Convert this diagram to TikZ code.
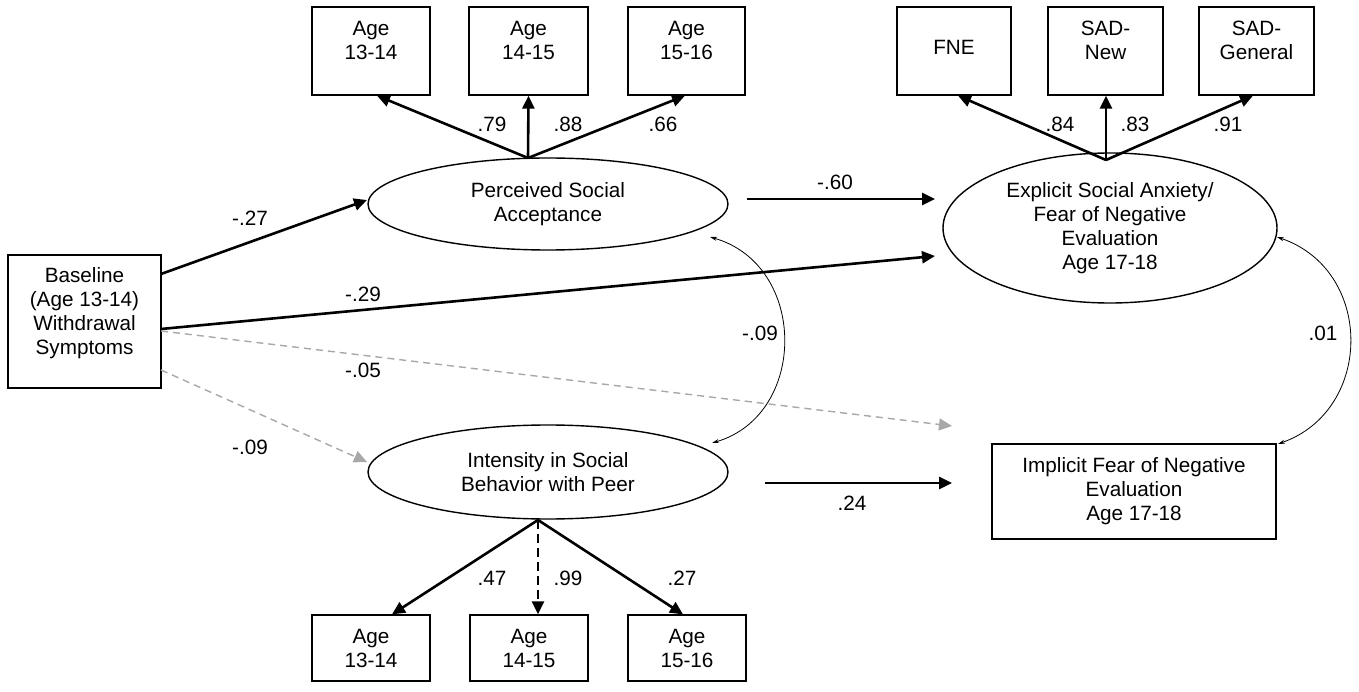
\documentclass[tikz,border=0pt]{standalone}
\usepackage{fontspec}
\setmainfont{Liberation Sans}
\usetikzlibrary{arrows.meta,shapes.geometric,calc}
\definecolor{lgray}{gray}{0.66}
\begin{document}
\begin{tikzpicture}[x=1pt,y=-1pt,
  every node/.style={font=\fontsize{20.7}{24}\selectfont, inner sep=0pt, align=center},
  box/.style={draw, line width=1.3pt, rectangle},
  ell/.style={draw, line width=1.4pt, ellipse},
  pth/.style={line width=2.6pt, -{Triangle[length=13pt,width=12pt]}},
  dpth/.style={line width=2.6pt, dash pattern=on 9pt off 5pt, -{Triangle[length=13pt,width=12pt]}},
  gpth/.style={line width=1.4pt, draw=lgray, dash pattern=on 7pt off 5pt, -{Triangle[length=13pt,width=12pt,fill=lgray]}},
  corr/.style={line width=0.8pt, {Stealth[length=7pt,width=4pt]}-{Stealth[length=7pt,width=4pt]}}
]
\fill[white] (0,0) rectangle (1359,692);
\useasboundingbox (0,0) rectangle (1359,692);

% top-left indicator boxes
\node[box, minimum width=118pt, minimum height=88pt] (pa1) at (371,51) {};
\node (pa1t) at (371,40) {Age\\13-14};
\node[box, minimum width=119pt, minimum height=88pt] (pa2) at (528.5,51) {};
\node (pa2t) at (528.5,40) {Age\\14-15};
\node[box, minimum width=117pt, minimum height=88pt] (pa3) at (686.5,51) {};
\node (pa3t) at (686.5,40) {Age\\15-16};

% top-right indicator boxes
\node[box, minimum width=114pt, minimum height=88pt] (f1) at (954,51) {};
\node (f1t) at (954,47) {FNE};
\node[box, minimum width=115pt, minimum height=88pt] (f2) at (1105.5,51) {};
\node (f2t) at (1105.5,40) {SAD-\\New};
\node[box, minimum width=115pt, minimum height=88pt] (f3) at (1256.5,51) {};
\node (f3t) at (1256.5,40) {SAD-\\General};

% latent variables
\node[ell, minimum width=360pt, minimum height=92pt] (psa) at (548,204) {Perceived Social\\Acceptance};
\node[ell, minimum width=334pt, minimum height=150pt] (exp) at (1110,228) {Explicit Social Anxiety/\\Fear of Negative\\Evaluation\\Age 17-18};
\node[ell, minimum width=360pt, minimum height=94pt] (isb) at (548,472) {Intensity in Social\\Behavior with Peer};

% baseline
\node[box, minimum width=153pt, minimum height=133pt] (base) at (84.5,321.5) {};
\node (baset) at (84.5,313) {Baseline\\(Age 13-14)\\Withdrawal\\Symptoms};

% implicit
\node[box, minimum width=284pt, minimum height=95pt] (imp) at (1134,491.5) {Implicit Fear of Negative\\Evaluation\\Age 17-18};

% bottom indicator boxes
\node[box, minimum width=118pt, minimum height=66pt] (ia1) at (371,648) {};
\node (ia1t) at (371,648) {Age\\13-14};
\node[box, minimum width=118pt, minimum height=66pt] (ia2) at (529,648) {};
\node (ia2t) at (529,648) {Age\\14-15};
\node[box, minimum width=118pt, minimum height=66pt] (ia3) at (687,648) {};
\node (ia3t) at (687,648) {Age\\15-16};

% connector end points
\coordinate (psaT) at (528,158);
\coordinate (expT) at (1106,160);
\coordinate (isbB) at (538,520);
\coordinate (bA) at (161,274);
\coordinate (bB) at (161,329);
\coordinate (bC) at (161,331);
\coordinate (bD) at (161,370);
\coordinate (psaIn) at (367,200);
\coordinate (expIn1) at (935,199);
\coordinate (expIn2) at (935,256);
\coordinate (impIn1) at (952,426);
\coordinate (impIn2) at (952,483);
\coordinate (isbIn) at (367,462);
\coordinate (psaOut) at (747,199);
\coordinate (isbOut) at (765,483);
\coordinate (c1a) at (710,237);
\coordinate (c1b) at (712,443);
\coordinate (c2a) at (1277,237);
\coordinate (c2b) at (1278,444);

% loadings
\draw[pth] (psaT) -- ([xshift=6pt]pa1.south);
\draw[pth] (psaT) -- (pa2.south);
\draw[pth] (psaT) -- ([xshift=-1.5pt]pa3.south);
\draw[pth] (expT) -- ([xshift=4pt]f1.south);
\draw[pth] (expT) -- ([xshift=0.5pt]f2.south);
\draw[pth] (expT) -- ([xshift=-3.5pt]f3.south);
\draw[pth] (isbB) -- ([xshift=21pt]ia1.north);
\draw[dpth] (isbB) -- ([xshift=9pt]ia2.north);
\draw[pth] (isbB) -- ([xshift=-4pt]ia3.north);

% structural paths
\draw[pth] (bA) -- (psaIn);
\draw[pth] (bB) -- (expIn2);
\draw[gpth] (bC) -- (impIn1);
\draw[gpth] (bD) -- (isbIn);
\draw[pth] (psaOut) -- (expIn1);
\draw[pth] (isbOut) -- (impIn2);

% correlations
\draw[corr] (c1a) .. controls (808,265) and (808,415) .. (c1b);
\draw[corr] (c2a) .. controls (1374,270) and (1374,410) .. (c2b);

% labels
\node (l79) at (492,124) {.79};
\node (l88) at (568,124) {.88};
\node (l66) at (663,124) {.66};
\node (l84) at (1060,124) {.84};
\node (l83) at (1135,124) {.83};
\node (l91) at (1228,124) {.91};
\node (l47) at (492,578) {.47};
\node (l99) at (568,578) {.99};
\node (l27b) at (682,578) {.27};
\node (l27) at (250,218) {-.27};
\node (l29) at (363,294) {-.29};
\node (l05) at (363,370) {-.05};
\node (l09) at (250,447) {-.09};
\node (l60) at (835,182) {-.60};
\node (l24) at (852,503) {.24};
\node (lc09) at (760,333) {-.09};
\node (lc01) at (1323,333) {.01};
\end{tikzpicture}
\end{document}
